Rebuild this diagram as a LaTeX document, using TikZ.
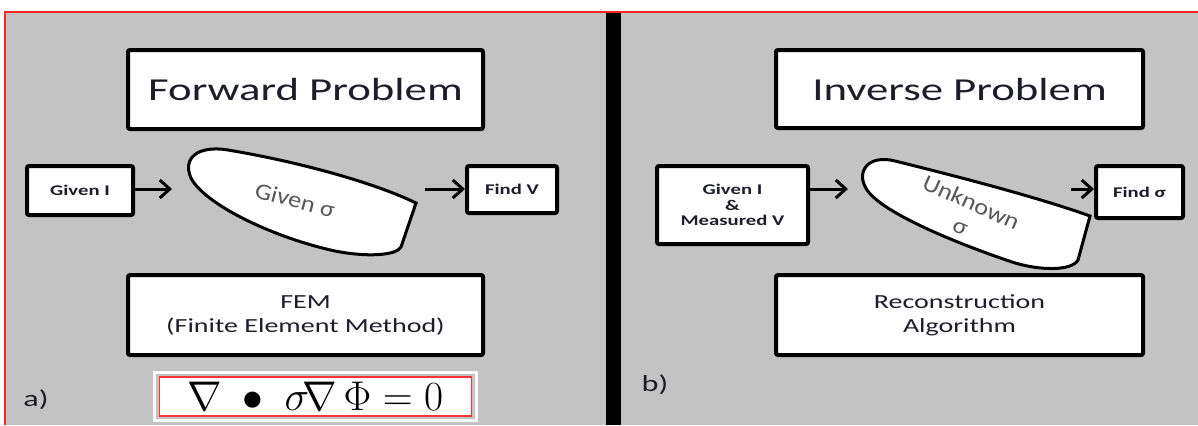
\documentclass[tikz,border=0pt]{standalone}
\usepackage{fontspec}
\setmainfont{Carlito}[FakeStretch=1.4]
\newfontfamily\blobfont{Carlito}[FakeStretch=1.15]
\usetikzlibrary{arrows.meta}
\definecolor{panelgray}{HTML}{C3C3C3}
\definecolor{inktext}{HTML}{1E1E2A}
\begin{document}
\begin{tikzpicture}[x=0.5pt, y=-0.5pt,
    box/.style={draw=black, line width=2pt, fill=white, rounded corners=1pt,
        inner sep=0pt, align=center, text=inktext},
    title/.style={box, font=\fontsize{16}{19}\selectfont},
    note/.style={box, font=\fontsize{10}{12}\selectfont},
    small/.style={box, font=\bfseries\fontsize{7.4}{7.6}\selectfont},
    flow/.style={line width=1.5pt, -{Straight Barb[length=5pt, width=9pt, line width=1.5pt]}},
    blob/.style={draw=black, line width=1.5pt, fill=white},
    blobtext/.style={text=black!65, font=\blobfont\fontsize{11.5}{13}\selectfont, align=center}]
    \useasboundingbox (0,0) rectangle (1198,425);
    % Fondo
    \fill[white] (0,0) rectangle (1198,425);
    \fill[panelgray] (5,12) rectangle (1198,425);
    \draw[red!85, line width=0.8pt] (5,425) -- (5,12) -- (1198,12);
    \fill[black] (606,13) rectangle (621,425);
    % a) Problema directo
    \node[title, minimum width=177.5pt, minimum height=39.5pt] (fwd) at (305.5,89.5) {Forward Problem};
    \node[small, minimum width=53pt, minimum height=24.5pt] (givenI) at (80,190.5) {Given I};
    \node[small, minimum width=45pt, minimum height=23.5pt] (findV) at (512,189.5) {Find V};
    \draw[blob] (416,203) -- (401,247) .. controls (396,256) and (365,257) .. (335,251)
        .. controls (275,238) and (205,205) .. (191,178)
        .. controls (182,158) and (198,145) .. (228,150)
        .. controls (300,162) and (375,183) .. cycle;
    \node[blobtext, rotate=-15] (givenS) at (295,200) {Given σ};
    \coordinate (fwdIn) at (172,189);
    \coordinate (fwdOut) at (425,189);
    \draw[flow] (givenI.east |- fwdIn) -- (fwdIn);
    \draw[flow] (fwdOut) -- (fwdOut -| findV.west);
    \node[note, minimum width=177.5pt, minimum height=40pt] (fem) at (305.5,315)
        {FEM\\(Finite Element Method)};
    \node[draw=red!80, line width=0.8pt, fill=white, minimum width=156pt, minimum height=19.5pt,
        inner sep=0pt] (eq) at (315.5,396.5)
        {\fontsize{22}{24}\selectfont$\nabla\;\bullet\;\sigma\!\nabla\,\Phi = 0$};
    \draw[white, line width=1.5pt] ([xshift=-2pt,yshift=2pt]eq.north west) rectangle ([xshift=2pt,yshift=-2pt]eq.south east);
    % b) Problema inverso
    \node[title, minimum width=183.5pt, minimum height=39pt] (inv) at (959.5,89) {Inverse Problem};
    \node[small, minimum width=75.5pt, minimum height=39pt] (givenM) at (732.5,205)
        {Given I\\\&\\Measured V};
    \node[small, minimum width=43.5pt, minimum height=26pt] (findS) at (1139.5,192) {Find σ};
    \draw[blob] (1090,216) -- (1078,260) .. controls (1072,271) and (1040,271) .. (1012,262)
        .. controls (950,241) and (882,212) .. (867,190)
        .. controls (855,172) and (868,154) .. (895,161)
        .. controls (960,177) and (1040,198) .. cycle;
    \node[blobtext, rotate=-24] (unkS) at (966,214) {Unknown\\σ};
    \coordinate (invIn) at (848,189);
    \coordinate (invOut) at (1071,189);
    \draw[flow] (givenM.east |- invIn) -- (invIn);
    \draw[flow] (invOut) -- (invOut -| findS.west);
    \node[note, minimum width=183.5pt, minimum height=40pt] (rec) at (959.5,315)
        {Reconstruction\\Algorithm};
    % Etiquetas
    \foreach \lbl/\xi/\yi in {a)/36/400, b)/655/385}{
        \node[text=inktext, font=\fontsize{11.5}{12}\selectfont] at (\xi,\yi) {\lbl};
    }
\end{tikzpicture}
\end{document}
